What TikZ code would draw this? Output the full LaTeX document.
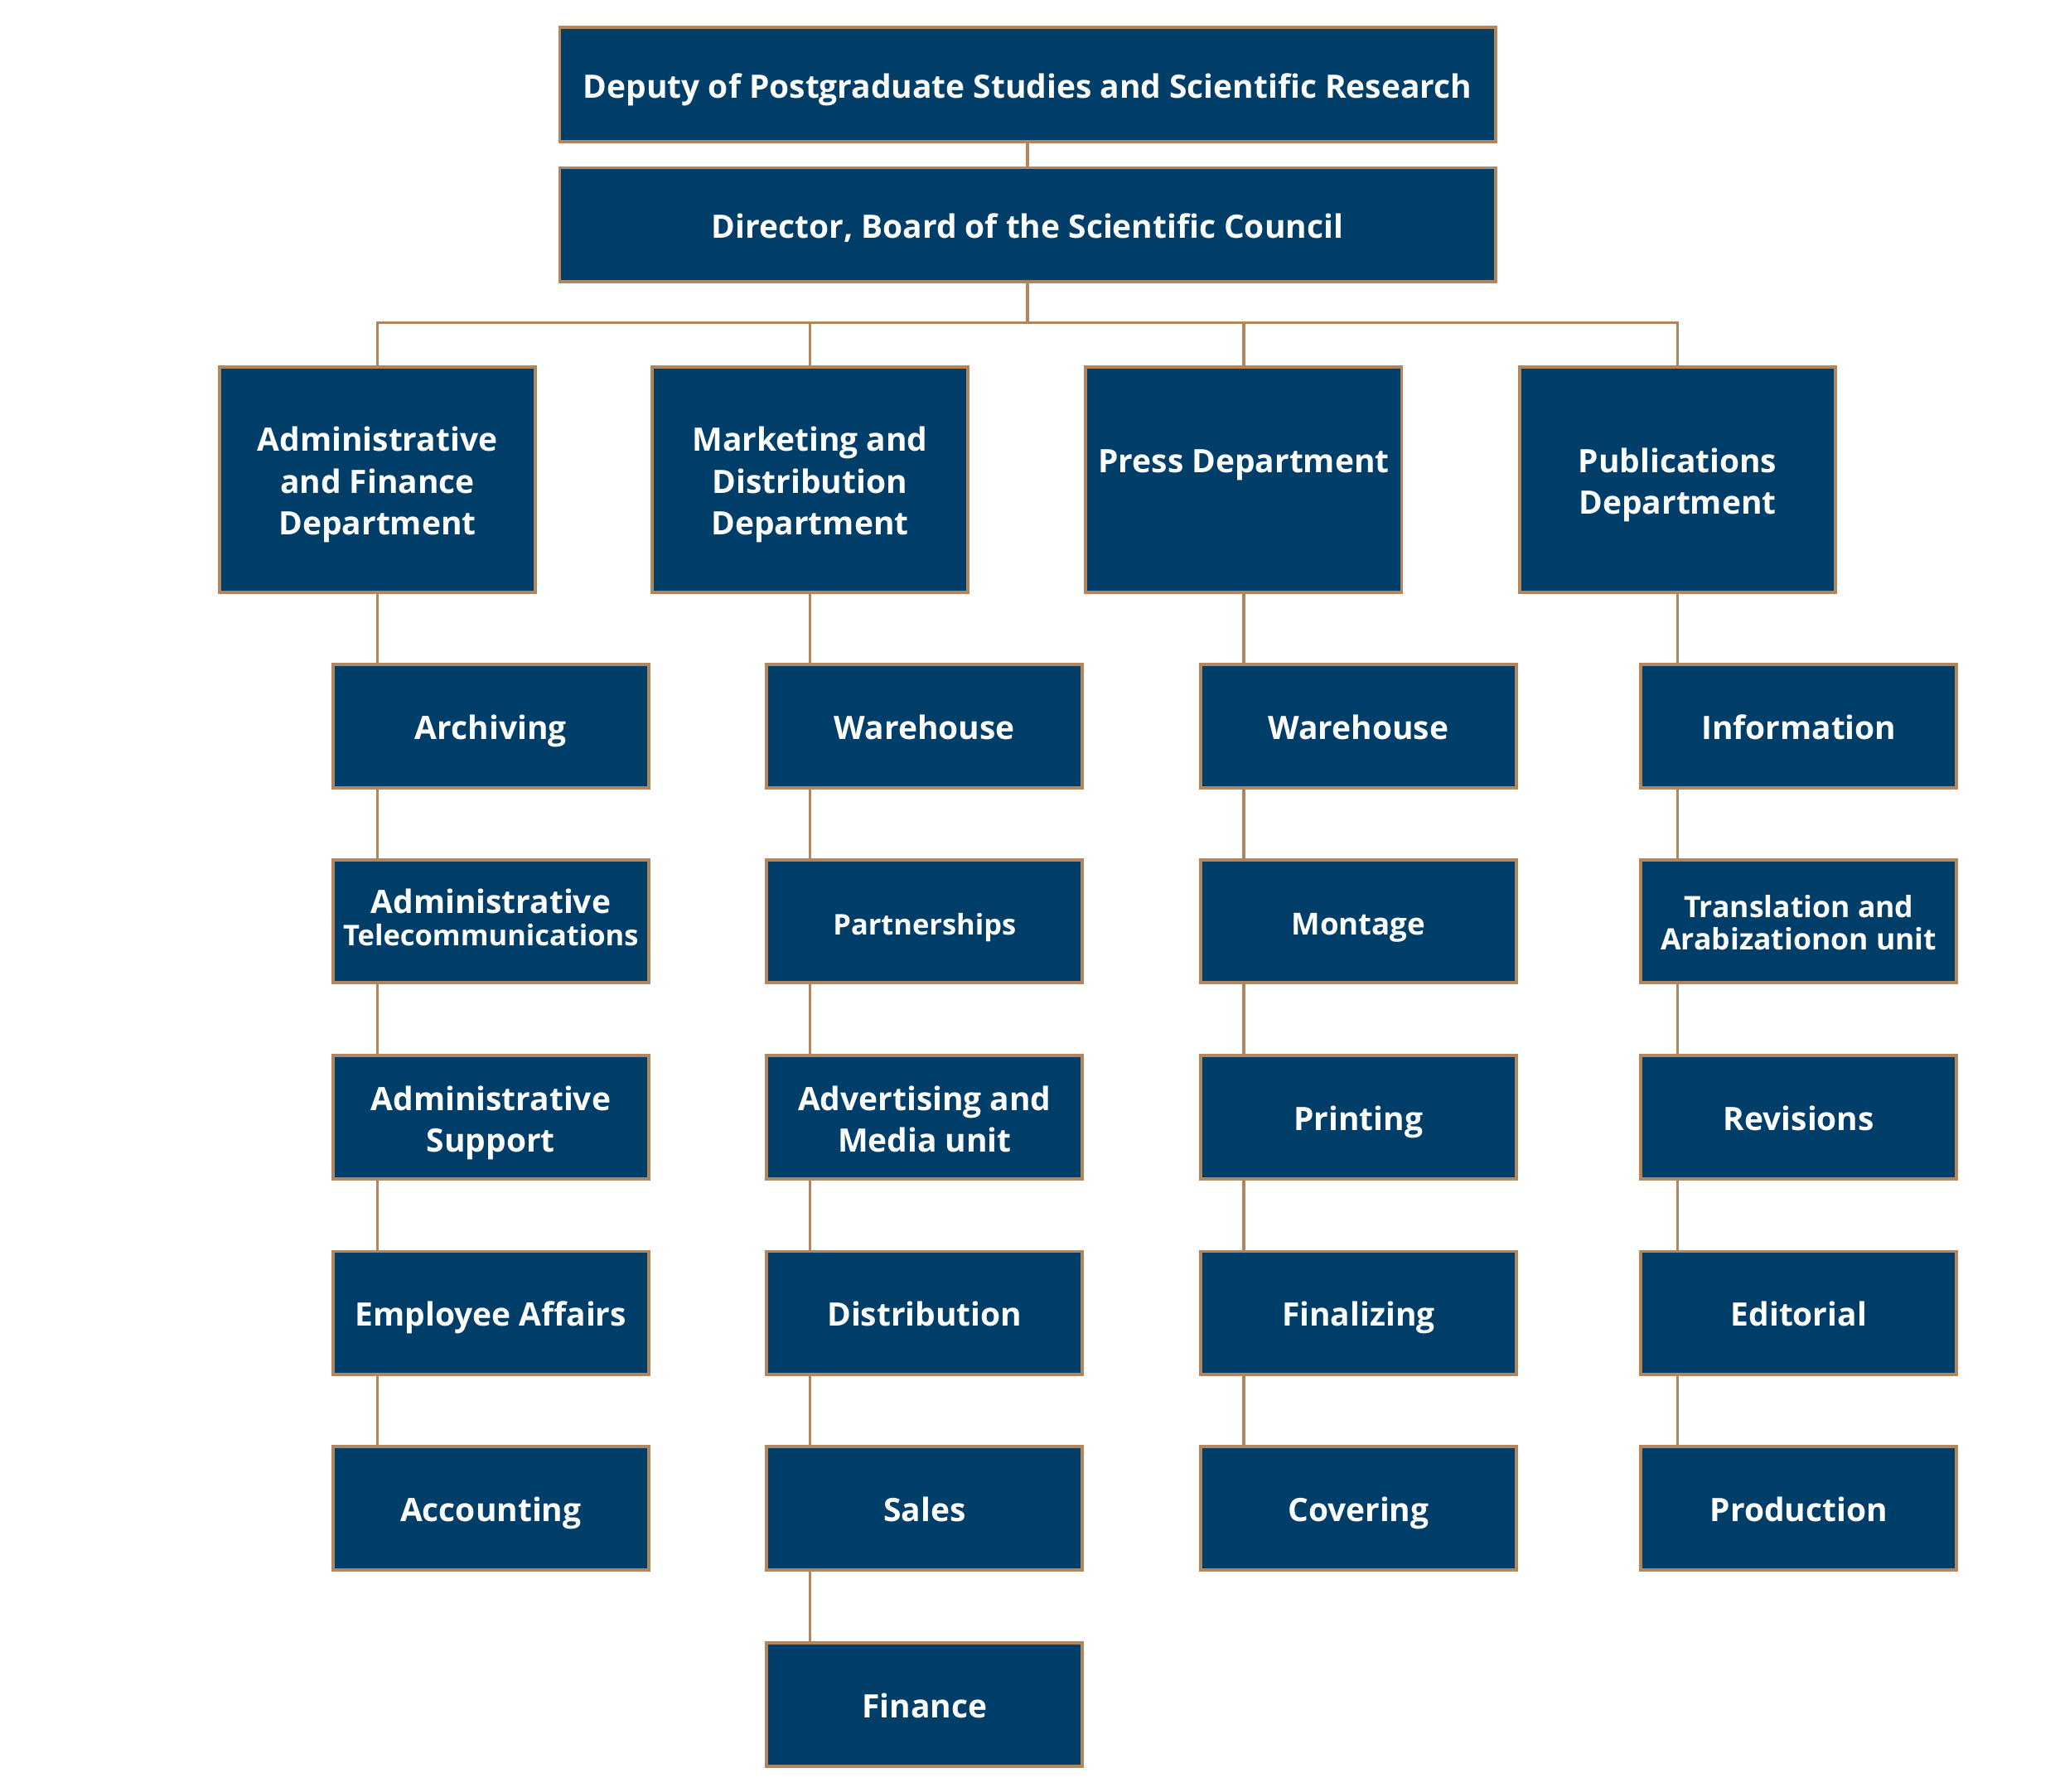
\documentclass[tikz,border=0pt]{standalone}
\usepackage{fontspec}
\setmainfont{Open Sans}
\usepackage{tikz}
\usetikzlibrary{calc}

\definecolor{boxblue}{HTML}{003E6A}
\definecolor{boxedge}{HTML}{B3855C}

\newcommand{\smalltext}{\fontsize{12.4}{14.8}\selectfont}

\tikzset{
    top gap/.store in=\boxtopgap, top gap=15pt,
    basebox/.style={draw=boxedge, line width=1.4pt, fill=boxblue, text=white,
        font=\bfseries\fontsize{14}{18}\selectfont, align=center, inner sep=0pt,
        execute at begin node={\rule{0pt}{\boxtopgap}},
        execute at end node={\rule[-3.4pt]{0pt}{0pt}}},
    twoline/.style={top gap=33.5pt},
    threeline/.style={top gap=51pt},
    smallpair/.style={top gap=28pt},
    headbox/.style={basebox, minimum width=14.28cm, minimum height=1.74cm},
    deptbox/.style={basebox, minimum width=4.82cm, minimum height=3.44cm},
    unitbox/.style={basebox, minimum width=4.82cm, minimum height=1.88cm},
    link/.style={draw=boxedge, line width=1.1pt}
}

\begin{document}
\begin{tikzpicture}[x=0.02cm, y=-0.02cm]
    % draw bounding box
    \useasboundingbox (0,0) rectangle (1568,1367);

    % draw head boxes
    \node[headbox] (deputy) at (784,64.5) {Deputy of Postgraduate Studies and Scientific Research};
    \node[headbox] (director) at (784,171.5) {Director, Board of the Scientific Council};

    % draw department boxes
    \node[deptbox, threeline] (adm) at (288,366) {Administrative\\ and Finance\\ Department};
    \node[deptbox, threeline] (mkt) at (618,366) {Marketing and\\ Distribution\\ Department};
    \node[deptbox, twoline] (prs) at (949,366) {Press Department\\ \mbox{}};
    \node[deptbox, twoline] (pub) at (1280,366) {Publications\\ Department};

    % draw unit boxes
    \foreach \y/\t/\s [count=\i] in {554/Archiving/, 703/{Administrative\\[-4pt] {\smalltext Telecommunications}}/,
        852.5/{Administrative\\ Support}/twoline, 1002/Employee Affairs/, 1151/Accounting/}
    \node[unitbox, \s] (adm\i) at (374.5,\y) {\t};

    \foreach \y/\t/\s [count=\i] in {554/Warehouse/, 703/{\smalltext Partnerships}/,
        852.5/{Advertising and\\ Media unit}/twoline, 1002/Distribution/, 1151/Sales/, 1301/Finance/}
    \node[unitbox, \s] (mkt\i) at (705.5,\y) {\t};

    \foreach \y/\t [count=\i] in {554/Warehouse, 703/{\fontsize{13.2}{16}\selectfont Montage},
        852.5/Printing, 1002/Finalizing, 1151/Covering}
    \node[unitbox] (prs\i) at (1036.5,\y) {\t};

    \foreach \y/\t/\s [count=\i] in {554/Information/,
        703/{{\fontsize{12.8}{15}\selectfont Translation and}\\[-4pt] {\fontsize{12.8}{15}\selectfont Arabizationon unit}}/smallpair,
        852.5/Revisions/, 1002/Editorial/, 1151/Production/}
    \node[unitbox, \s] (pub\i) at (1372.5,\y) {\t};

    % draw connectors
    \draw[link] (deputy) -- (director);
    \draw[link] (director.south) -- ++(0,30) coordinate (bus);
    \draw[link] (adm.north) -- (adm.north |- bus) -| (pub.north);
    \draw[link] (mkt.north) -- (mkt.north |- bus);
    \draw[link] (prs.north) -- (prs.north |- bus);

    \foreach \d/\n in {adm/5, mkt/6, prs/5, pub/5} {
        \draw[link] (\d.south) -- (\d.south |- \d1.north);
        \foreach \i [evaluate=\i as \j using int(\i+1)] in {1,...,\numexpr\n-1\relax}
        \draw[link] (\d\i.south -| \d) -- (\d\j.north -| \d);
    }

\end{tikzpicture}
\end{document}
